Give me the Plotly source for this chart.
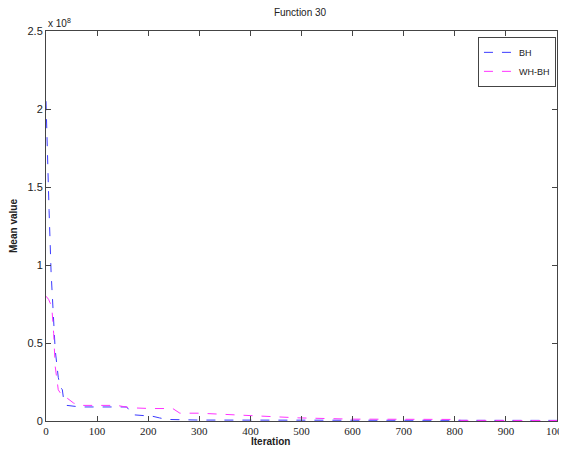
import plotly.graph_objects as go

# Values in units of 1e8
bh_iter = [0, 3, 6, 10, 14, 18, 24, 28, 32, 34, 41, 55, 67, 100, 130, 158, 165, 170, 190, 209, 222, 236, 300, 400, 500, 600, 700, 800, 900, 1000]
bh_val = [2.05, 1.6, 1.35, 0.95, 0.7, 0.455, 0.28, 0.22, 0.2, 0.15, 0.10, 0.095, 0.09, 0.09, 0.09, 0.09, 0.06, 0.04, 0.035, 0.03, 0.02, 0.01, 0.006, 0.005, 0.005, 0.005, 0.005, 0.005, 0.004, 0.004]

wh_iter = [0, 5, 9, 12, 15, 18, 24, 30, 38, 54, 67, 100, 139, 164, 203, 248, 262, 300, 359, 372, 430, 495, 598, 700, 806, 812, 900, 1000]
wh_val = [0.8, 0.78, 0.75, 0.7, 0.56, 0.35, 0.2, 0.17, 0.155, 0.115, 0.10, 0.10, 0.10, 0.085, 0.08, 0.08, 0.05, 0.05, 0.04, 0.04, 0.03, 0.02, 0.012, 0.01, 0.01, 0.004, 0.003, 0.003]

x_ticks = [0, 100, 200, 300, 400, 500, 600, 700, 800, 900, 1000]
y_ticks = [0, 0.5, 1, 1.5, 2, 2.5]
y_tick_text = ["0", "0.5", "1", "1.5", "2", "2.5"]

fig = go.Figure()
fig.add_trace(go.Scatter(x=bh_iter, y=bh_val, mode="lines", name="BH",
                         line=dict(color="#3a3aff", width=1, dash="dash")))
fig.add_trace(go.Scatter(x=wh_iter, y=wh_val, mode="lines", name="WH-BH",
                         line=dict(color="#ff33ff", width=1, dash="dash")))

axis_common = dict(showline=True, linecolor="#444444", linewidth=1, mirror="ticks",
                   ticks="inside", ticklen=5, tickcolor="#444444", showgrid=False,
                   zeroline=False, automargin=False)

fig.update_layout(
    width=551, height=441,
    margin=dict(l=38, r=2, t=23, b=28),
    paper_bgcolor="white", plot_bgcolor="white",
    title=dict(text="Function 30", x=0.53, xanchor="center", y=1.0, yanchor="top",
               pad=dict(t=1),
               font=dict(family="Liberation Sans, Arial", size=10, color="#222222")),
    xaxis=dict(range=[0, 1000], tickvals=x_ticks, ticktext=[str(v) for v in x_ticks],
               tickfont=dict(family="Liberation Serif, Times New Roman", size=11, color="#222222"),
               ticklabelstandoff=0, ticklabeloverflow="allow",
               **axis_common),
    yaxis=dict(range=[0, 2.5], tickvals=y_ticks, ticktext=y_tick_text,
               tickfont=dict(family="Liberation Sans, Arial", size=11, color="#222222"),
               title=dict(text="<b>Mean value</b>", standoff=10,
                          font=dict(family="Liberation Sans, Arial", size=10, color="#222222")),
               **axis_common),
    legend=dict(x=0.998, y=0.985, xanchor="right", yanchor="top",
                bordercolor="#444444", borderwidth=1, bgcolor="white",
                font=dict(family="Liberation Sans, Arial", size=9, color="#222222"),
                tracegroupgap=0, itemwidth=30),
    showlegend=True,
)

fig.add_annotation(text="<b>Iteration</b>", xref="paper", yref="paper", x=0.44, y=-28 / 390,
                   xanchor="center", yanchor="bottom", showarrow=False,
                   font=dict(family="Liberation Sans, Arial", size=10, color="#222222"))

fig.add_annotation(text="x 10<sup>8</sup>", xref="paper", yref="paper", x=0, y=1.0,
                   xanchor="left", yanchor="bottom", showarrow=False,
                   font=dict(family="Liberation Sans, Arial", size=10, color="#222222"))

fig.write_html("out.html")
